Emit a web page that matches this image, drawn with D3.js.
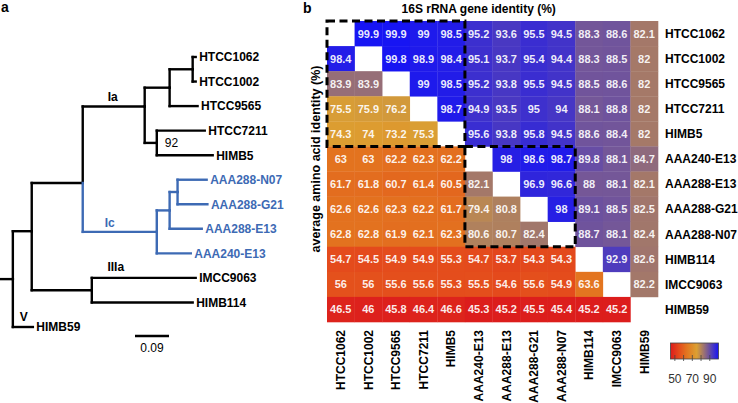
<!DOCTYPE html>
<html><head><meta charset="utf-8">
<script src="https://cdn.jsdelivr.net/npm/d3@7"></script>
<style>
body{margin:0;background:#fff}
svg{display:block;font-family:"Liberation Sans",Arial,Helvetica,sans-serif}
</style>
</head><body>
<svg id="chart" width="738" height="403"></svg>
<script>
// ---------- DATA ----------
const strains = ["HTCC1062","HTCC1002","HTCC9565","HTCC7211","HIMB5","AAA240-E13","AAA288-E13","AAA288-G21","AAA288-N07","HIMB114","IMCC9063","HIMB59"];
// upper triangle: 16S rRNA gene identity (%), lower triangle: average amino acid identity (%)
const rowHTCC1062  = [null,99.9,99.9,99,98.5,95.2,93.6,95.5,94.5,88.3,88.6,82.1];
const rowHTCC1002  = [98.4,null,99.8,98.9,98.4,95.1,93.7,95.4,94.4,88.3,88.5,82];
const rowHTCC9565  = [83.9,83.9,null,99,98.5,95.2,93.8,95.5,94.5,88.5,88.6,82];
const rowHTCC7211  = [75.5,75.9,76.2,null,98.7,94.9,93.5,95,94,88.1,88.8,82];
const rowHIMB5     = [74.3,74,73.2,75.3,null,95.6,93.8,95.8,94.5,88.6,88.4,82];
const rowAAA240E13 = [63,63,62.2,62.3,62.2,null,98,98.6,98.7,89.8,88.1,84.7];
const rowAAA288E13 = [61.7,61.8,60.7,61.4,60.5,82.1,null,96.9,96.6,88,88.1,82.1];
const rowAAA288G21 = [62.6,62.6,62.3,62.2,61.7,79.4,80.8,null,98,89.1,88.5,82.5];
const rowAAA288N07 = [62.8,62.8,61.9,62.1,62.3,80.6,80.7,82.4,null,88.7,88.1,82.4];
const rowHIMB114   = [54.7,54.5,54.9,54.9,55.3,54.7,53.7,54.3,54.3,null,92.9,82.6];
const rowIMCC9063  = [56,56,55.6,55.6,55.3,55.5,54.6,55.6,54.9,63.6,null,82.2];
const rowHIMB59    = [46.5,46,45.8,46.4,46.6,45.3,45.2,45.5,45.4,45.2,45.2,null];
const matrix = [rowHTCC1062,rowHTCC1002,rowHTCC9565,rowHTCC7211,rowHIMB5,rowAAA240E13,rowAAA288E13,rowAAA288G21,rowAAA288N07,rowHIMB114,rowIMCC9063,rowHIMB59];

const colorStops  = [45,55,63,75,100];
const colorValues = ["#dc1c1c","#e44c1c","#e3731f","#dca032","#1614f4"];
const legendTicks = [50,60,70,80,90];
const legendLabels = [50,70,90];
const groupBoxes = [["HTCC1062","HIMB5"],["AAA240-E13","AAA288-N07"]];

// phylogeny (branch lengths, substitutions/site)
const tree = {id:"root", len:0.034, children:[
  {id:"SAR11", len:0.050, children:[
    {id:"I", len:0.135, children:[
      {id:"Ia", len:0.164, clade:"Ia", children:[
        {len:0.066, children:[
          {len:0.061, children:[{name:"HTCC1062",len:0.008},{name:"HTCC1002",len:0.008}]},
          {name:"HTCC9565",len:0.074}]},
        {len:0.032, support:92, children:[{name:"HTCC7211",len:0.127},{name:"HIMB5",len:0.148}]}
      ]},
      {id:"Ic", len:0.196, clade:"Ic", highlight:true, children:[
        {len:0.034, children:[
          {len:0.021, children:[{name:"AAA288-N07",len:0.077},{name:"AAA288-G21",len:0.079}]},
          {name:"AAA288-E13",len:0.085}]},
        {name:"AAA240-E13",len:0.090}]}
    ]},
    {id:"IIIa", len:0.159, clade:"IIIa", children:[{name:"IMCC9063",len:0.275},{name:"HIMB114",len:0.267}]}
  ]},
  {name:"HIMB59",len:0.053, clade:"V"}
]};
const scaleBarValue = 0.09;

// ---------- DRAW ----------
const svg = d3.select("#chart");
const BLUE = "#3d6ab4";

// Panel a: tree
svg.append("text").attr("x",1).attr("y",12).attr("font-size",14).attr("font-weight","bold").text("a");
const root = d3.hierarchy(tree);
const xs = d3.scaleLinear().domain([0,0.09]).range([0,34]);
root.eachBefore(n=>{ n.dist = (n.parent?n.parent.dist:0) + n.data.len; n.hl = n.data.highlight || (n.parent && n.parent.hl); });
const leaves = root.leaves();
const ys = d3.scalePoint().domain(leaves.map(d=>d.data.name)).range([57,327]);
// where a parent joins its vertical connector (fraction between first and last child), as drawn in the figure
const joinAt = {Ia:0.34, I:0.61, SAR11:0.45};
root.eachAfter(n=>{
  if(!n.children) n.y = ys(n.data.name);
  else {
    const a = n.children[0].y, b = n.children[n.children.length-1].y;
    const f = joinAt[n.data.id] !== undefined ? joinAt[n.data.id] : 0.5;
    n.y = a + f*(b-a);
  }
});
const gT = svg.append("g").attr("fill","none").attr("stroke-width",2.4).attr("stroke-linecap","square");
root.each(n=>{
  const x1 = xs(n.dist), x0 = xs(n.dist - n.data.len);
  gT.append("line").attr("x1",x0).attr("x2",x1).attr("y1",n.y).attr("y2",n.y).attr("stroke",n.hl?BLUE:"#000");
  if(n.children){
    n.children.forEach(c=>{
      gT.append("line").attr("x1",x1).attr("x2",x1).attr("y1",n.y).attr("y2",c.y).attr("stroke",c.hl?BLUE:"#000");
    });
  }
});
const gL = svg.append("g").attr("font-size",12).attr("font-weight","bold");
leaves.forEach(n=>{
  gL.append("text").attr("x",xs(n.dist)+3.5).attr("y",n.y).attr("dy","0.36em")
    .attr("fill",n.hl?BLUE:"#000").text(n.data.name);
});
root.descendants().filter(n=>n.data.clade).forEach(n=>{
  const x0 = xs(n.dist - n.data.len), x1 = xs(n.dist);
  let tx, ty;
  if(n.data.clade==="Ia"){ tx=(x0+x1)/2 - 1; ty=n.y-5; }
  else if(n.data.clade==="Ic"){ tx=x0+27; ty=n.y-5; }
  else if(n.data.clade==="IIIa"){ tx=x1+24; ty=n.children[0].y-7; }
  else { tx=(x0+x1)/2+1; ty=n.y-6; }
  gL.append("text").attr("x",tx).attr("y",ty).attr("text-anchor","middle")
    .attr("fill",n.hl?BLUE:"#000").text(n.data.clade);
});
root.descendants().filter(n=>n.data.support).forEach(n=>{
  svg.append("text").attr("x",xs(n.dist)+8).attr("y",n.y).attr("dy","0.36em")
    .attr("font-size",12).text(n.data.support);
});
// scale bar
const sbx = 135;
svg.append("line").attr("x1",sbx).attr("x2",sbx+xs(scaleBarValue)).attr("y1",336).attr("y2",336)
  .attr("stroke","#000").attr("stroke-width",2.4);
svg.append("text").attr("x",sbx+xs(scaleBarValue)/2).attr("y",352).attr("text-anchor","middle")
  .attr("font-size",12).text(scaleBarValue);

// Panel b: heatmap
const x = d3.scaleBand().domain(strains).range([327,658]);
const y = d3.scaleBand().domain(strains).range([21,322]);
const color = d3.scaleLinear().domain(colorStops).range(colorValues).clamp(true);

svg.append("text").attr("x",303).attr("y",13).attr("font-size",14).attr("font-weight","bold").text("b");
svg.append("text").attr("x",(x(strains[0])+x(strains[10])+x.bandwidth())/2).attr("y",13)
  .attr("text-anchor","middle").attr("font-size",12).attr("font-weight","bold").text("16S rRNA gene identity (%)");
svg.append("text").attr("transform",`translate(320,${(y(strains[0])+y(strains[10])+y.bandwidth())/2}) rotate(-90)`)
  .attr("text-anchor","middle").attr("font-size",12.5).attr("font-weight","bold").text("average amino acid identity (%)");

const cells = [];
matrix.forEach((row,i)=>row.forEach((v,j)=>{ if(v!==null) cells.push({r:strains[i],c:strains[j],v}); }));
const gC = svg.append("g");
gC.selectAll("rect").data(cells).join("rect")
  .attr("x",d=>x(d.c)).attr("y",d=>y(d.r)).attr("width",x.bandwidth()+0.3).attr("height",y.bandwidth()+0.3)
  .attr("fill",d=>color(d.v));
gC.selectAll("text").data(cells).join("text")
  .attr("x",d=>x(d.c)+x.bandwidth()/2).attr("y",d=>y(d.r)+y.bandwidth()/2).attr("dy","0.36em")
  .attr("text-anchor","middle").attr("font-size",11).attr("font-weight","bold").attr("fill","#fff").attr("fill-opacity",0.92)
  .text(d=>d.v);

// row labels
svg.append("g").selectAll("text").data(strains).join("text")
  .attr("x",x.range()[1]+7).attr("y",d=>y(d)+y.bandwidth()/2).attr("dy","0.36em")
  .attr("font-size",12).attr("font-weight","bold").text(d=>d);
// column labels
svg.append("g").selectAll("text").data(strains).join("text")
  .attr("transform",d=>`translate(${x(d)+x.bandwidth()/2},${y.range()[1]+8}) rotate(-90)`)
  .attr("dy","0.36em").attr("text-anchor","end")
  .attr("font-size",12).attr("font-weight","bold").text(d=>d);

// dashed group boxes
groupBoxes.forEach(([a,b])=>{
  svg.append("rect").attr("x",x(a)).attr("y",y(a))
    .attr("width",x(b)+x.bandwidth()-x(a)).attr("height",y(b)+y.bandwidth()-y(a))
    .attr("fill","none").attr("stroke","#000").attr("stroke-width",3).attr("stroke-dasharray","8,4.5");
});

// legend
const lx = d3.scaleLinear().domain([45,100]).range([670.5,718.5]);
const grad = svg.append("defs").append("linearGradient").attr("id","lg");
d3.range(45,100.01,2.5).forEach(v=>{
  grad.append("stop").attr("offset",(v-45)/55).attr("stop-color",color(v));
});
svg.append("rect").attr("x",lx(45)).attr("y",343).attr("width",lx(100)-lx(45)).attr("height",16)
  .attr("fill","url(#lg)").attr("stroke","#444").attr("stroke-width",0.8);
svg.append("g").selectAll("line").data(legendTicks).join("line")
  .attr("x1",d=>lx(d)).attr("x2",d=>lx(d)).attr("y1",355).attr("y2",361).attr("stroke","#444").attr("stroke-width",0.8);
svg.append("g").selectAll("text").data(legendLabels).join("text")
  .attr("x",d=>lx(d)).attr("y",383).attr("text-anchor","middle").attr("font-size",12).attr("fill","#333").text(d=>d);
</script>
</body></html>
